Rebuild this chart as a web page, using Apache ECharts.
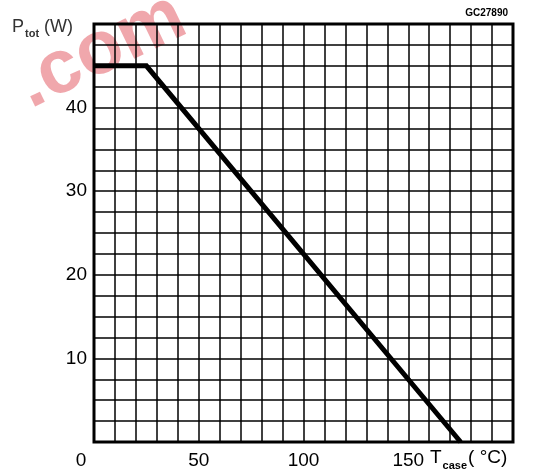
<!DOCTYPE html>
<html>
<head>
<meta charset="utf-8">
<script src="https://cdn.jsdelivr.net/npm/echarts@6/dist/echarts.min.js"></script>
<style>html,body{margin:0;padding:0;background:#fff}#c{width:534px;height:476px}</style>
</head>
<body>
<div id="c"></div>
<script>
// Derating curve: Ptot (W) vs Tcase (°C)
const tcase = [0, 25, 175];
const ptot = [45, 45, 0];
const xTickLabels = ['0', '50', '100', '150'];
const yTickLabels = ['10', '20', '30', '40'];

const chart = echarts.init(document.getElementById('c'), null, {renderer: 'canvas'});
const font = '"Liberation Sans", Arial, sans-serif';
chart.setOption({
  animation: false,
  backgroundColor: '#fff',
  grid: {left: 94, top: 24, right: 21, bottom: 34, show: true, borderColor: '#000', borderWidth: 3, backgroundColor: 'transparent', z: 3},
  graphic: [
    {type: 'text', x: 38, y: 124, rotation: 0.45, z: -10,
     style: {text: '.com', font: 'bold 76px "Liberation Sans", Arial, sans-serif', fill: 'rgba(226,80,90,0.5)', verticalAlign: 'bottom'}},
    {type: 'text', right: 26, top: 8,
     style: {text: 'GC27890', font: 'bold 10px "Liberation Sans", Arial, sans-serif', fill: '#000'}},
    {type: 'text', left: 12, top: 18,
     style: {text: '{a|P}{s|tot}{a| (W)}', fill: '#333',
       rich: {a: {fontSize: 18, fontFamily: font, fill: '#333', verticalAlign: 'bottom'},
              s: {fontSize: 11, fontFamily: font, fill: '#333', fontWeight: 'bold', verticalAlign: 'bottom', padding: [0, 0, -3, 1]}}}},
    {type: 'text', left: 430, top: 448,
     style: {text: '{a|T}{s|case}{a|( °C)}', fill: '#000',
       rich: {a: {fontSize: 19, fontFamily: font, fill: '#000', verticalAlign: 'bottom'},
              s: {fontSize: 11, fontFamily: font, fill: '#000', fontWeight: 'bold', verticalAlign: 'bottom', padding: [0, 1, -4, 1]}}}}
  ],
  xAxis: {
    type: 'value', min: 0, max: 200, interval: 10,
    axisLine: {show: false}, axisTick: {show: false},
    splitLine: {show: true, lineStyle: {color: '#000', width: 1.5}},
    axisLabel: {
      show: true, margin: 9, fontSize: 19, fontFamily: font, color: '#000',
      showMinLabel: true, showMaxLabel: true,
      formatter: function (v) {
        const s = String(v);
        if (xTickLabels.indexOf(s) < 0) return '';
        return v === 0 ? '{z|' + s + '}' : s;
      },
      rich: {z: {fontSize: 19, fontFamily: font, color: '#000', padding: [0, 26, 0, 0]}}
    }
  },
  yAxis: {
    type: 'value', min: 0, max: 50, interval: 2.5,
    axisLine: {show: false}, axisTick: {show: false},
    splitLine: {show: true, lineStyle: {color: '#000', width: 1.5}},
    axisLabel: {
      show: true, margin: 7, fontSize: 19, fontFamily: font, color: '#000',
      formatter: function (v) {
        const s = String(v);
        return yTickLabels.indexOf(s) >= 0 ? s : '';
      }
    }
  },
  series: [{
    type: 'line',
    data: tcase.map((t, i) => [t, ptot[i]]),
    showSymbol: false, symbol: 'none',
    lineStyle: {color: '#000', width: 5, join: 'miter', cap: 'butt'},
    z: 5
  }]
});
</script>
</body>
</html>
